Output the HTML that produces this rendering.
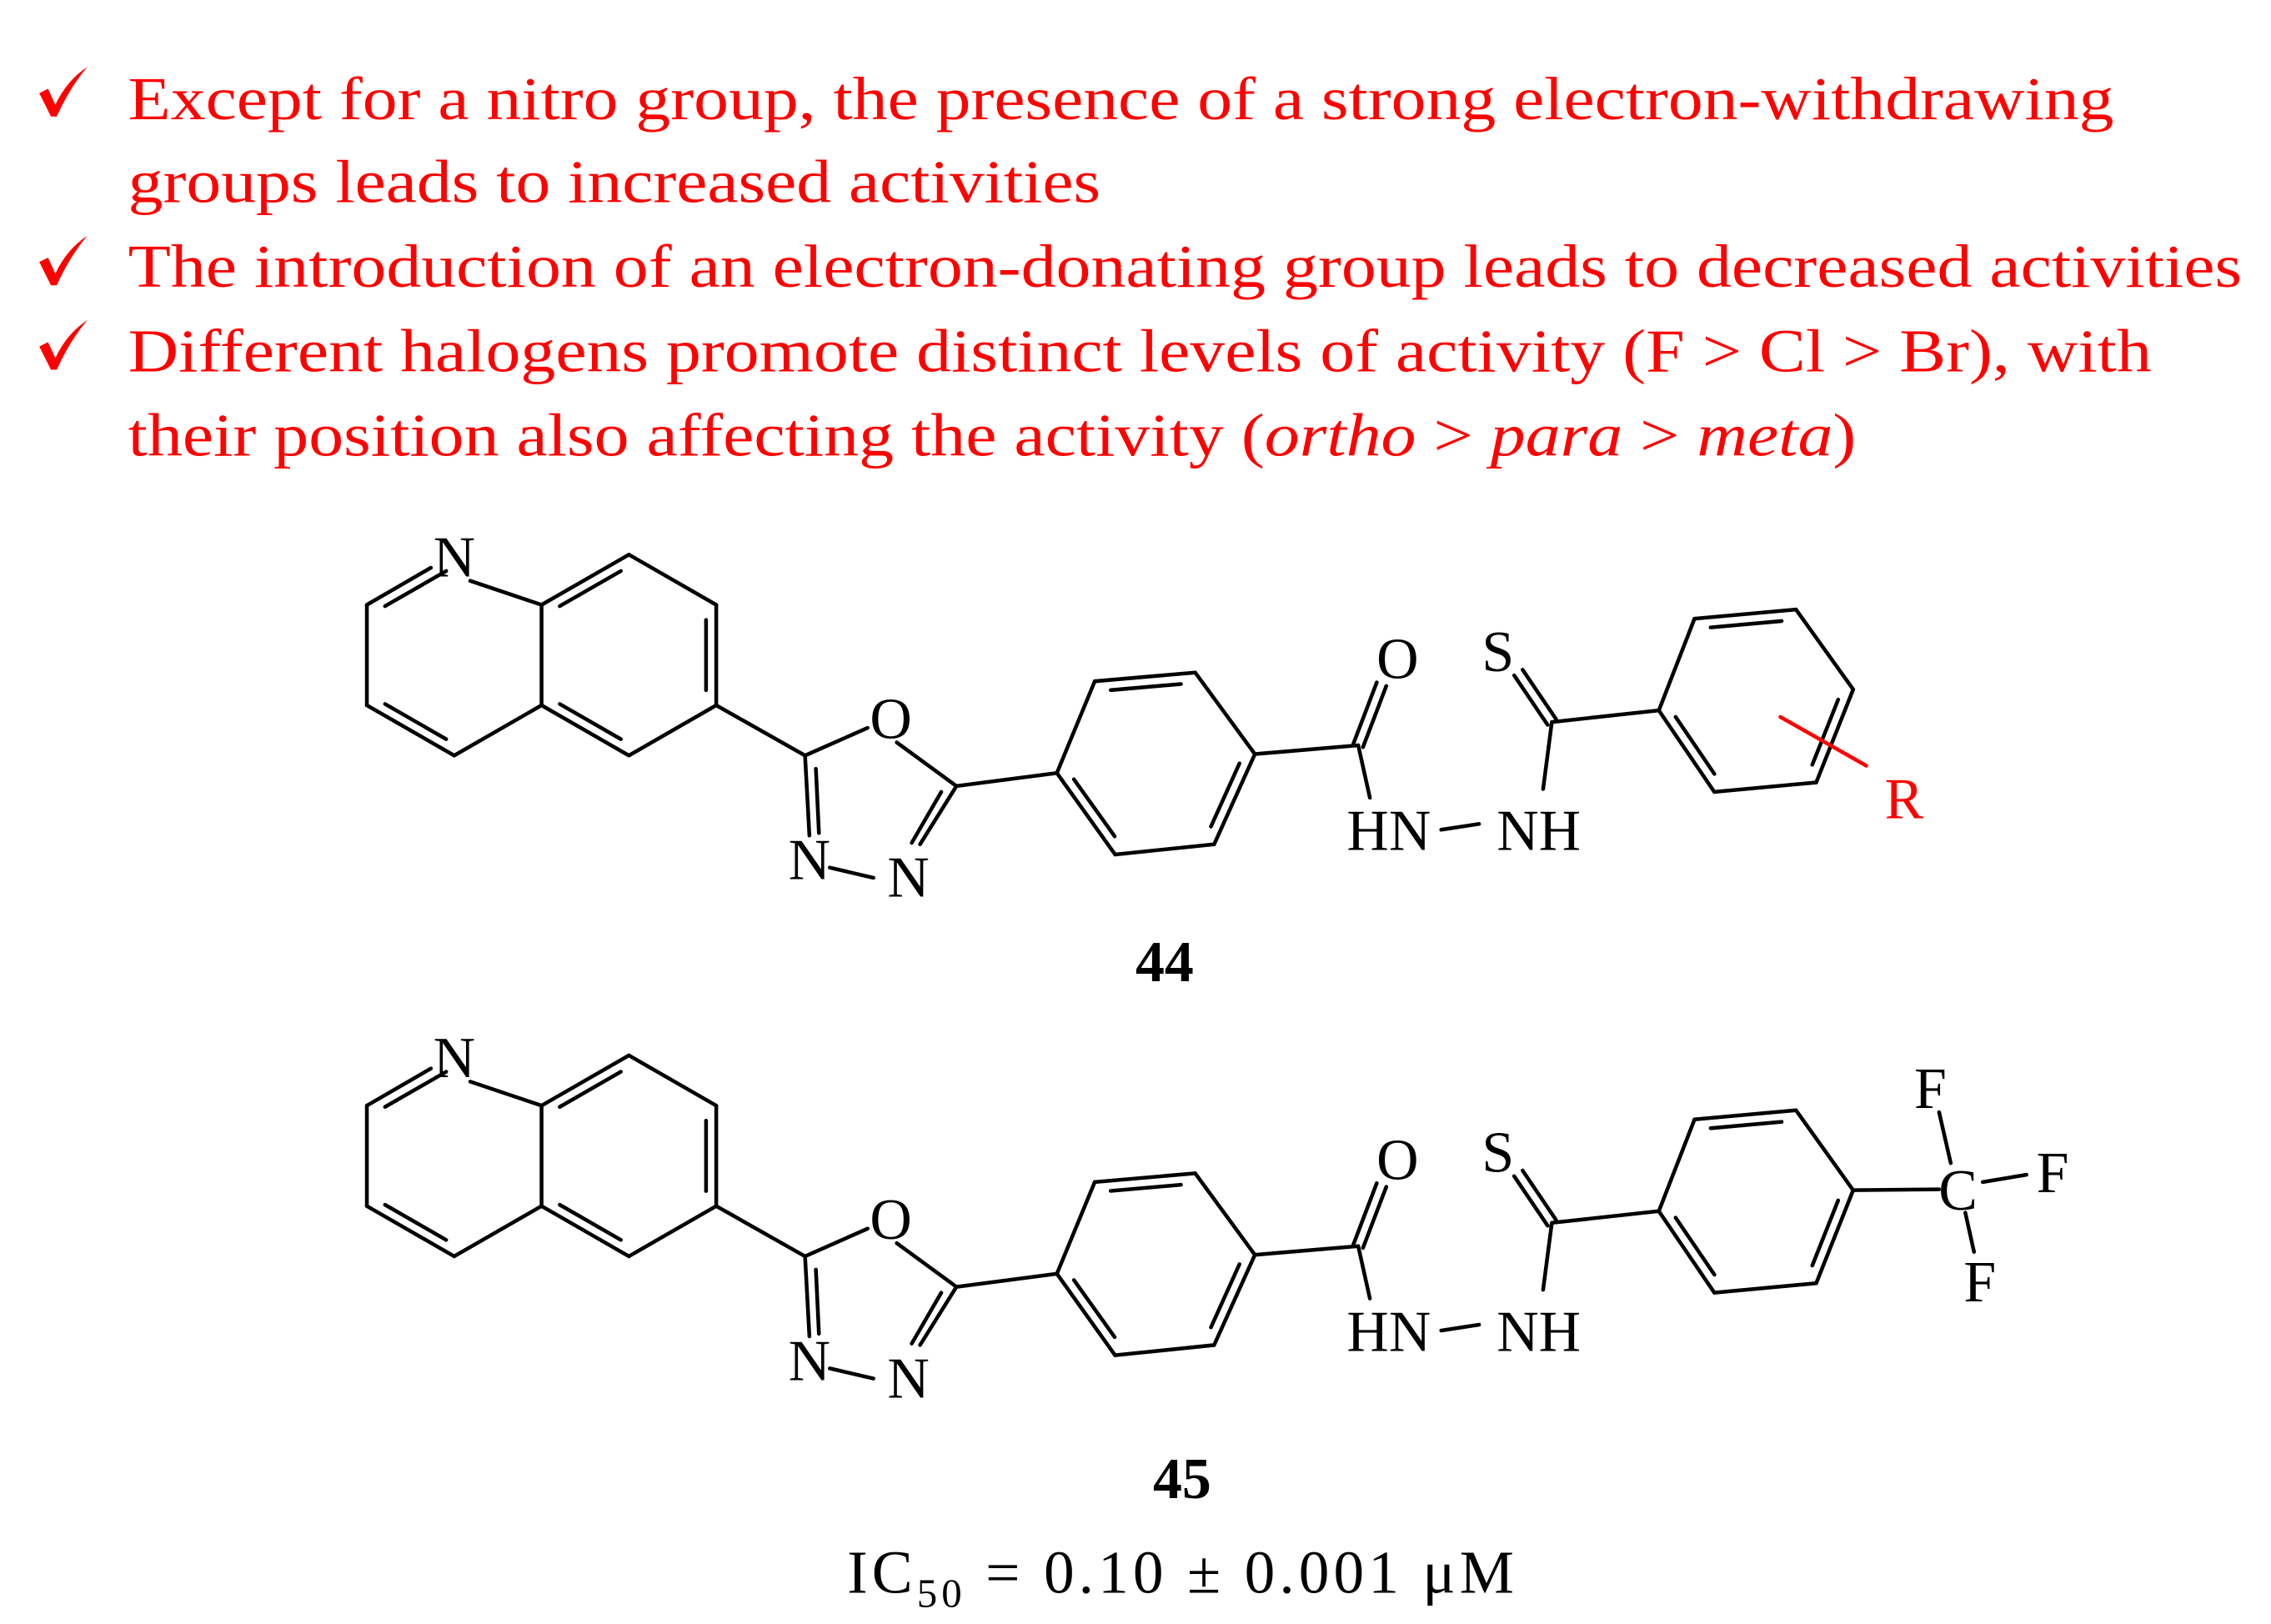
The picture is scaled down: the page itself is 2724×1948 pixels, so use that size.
<!DOCTYPE html>
<html><head><meta charset="utf-8"><style>
html,body{margin:0;padding:0;background:#fff;}
svg{display:block;}
text{font-family:"Liberation Serif","DejaVu Serif",serif;}
</style></head><body>
<svg id="s" width="2724" height="1948" viewBox="0 0 1560 1115.6" preserveAspectRatio="none" xmlns="http://www.w3.org/2000/svg">
<g fill="#ff0000" font-size="42">
<path d="M27 64 L33 61 L38 72 Q46 55 60 46 Q48 60 39 80 L35 80 Z"/>
<path d="M27 180 L33 177 L38 188 Q46 171 60 162 Q48 176 39 196 L35 196 Z"/>
<path d="M27 238 L33 235 L38 246 Q46 229 60 220 Q48 234 39 254 L35 254 Z"/>
<text x="88" y="82" textLength="1364" lengthAdjust="spacingAndGlyphs">Except for a nitro group, the presence of a strong electron-withdrawing</text>
<text x="88" y="139" textLength="668" lengthAdjust="spacingAndGlyphs">groups leads to increased activities</text>
<text x="88" y="197" textLength="1452" lengthAdjust="spacingAndGlyphs">The introduction of an electron-donating group leads to decreased activities</text>
<text x="88" y="255" textLength="1390" lengthAdjust="spacingAndGlyphs">Different halogens promote distinct levels of activity (F &gt; Cl &gt; Br), with</text>
<text x="88" y="313" textLength="1187" lengthAdjust="spacingAndGlyphs">their position also affecting the activity (<tspan font-style="italic">ortho</tspan> &gt; <tspan font-style="italic">para</tspan> &gt; <tspan font-style="italic">meta</tspan>)</text>
</g>
<g id="mol" stroke="#000" stroke-width="2.6" fill="none" stroke-linecap="round"></g>
<g id="lab" font-size="40" fill="#000"></g>
</svg>
<script>
var NS="http://www.w3.org/2000/svg",G=document.getElementById('mol'),L=document.getElementById('lab');
function ln(a,b,col){var e=document.createElementNS(NS,'line');e.setAttribute('x1',a[0]);e.setAttribute('y1',a[1]);e.setAttribute('x2',b[0]);e.setAttribute('y2',b[1]);if(col)e.setAttribute('stroke',col);G.appendChild(e);}
function inner(a,b,c){var mx=(a[0]+b[0])/2,my=(a[1]+b[1])/2,dx=b[0]-a[0],dy=b[1]-a[1],l=Math.hypot(dx,dy),nx=-dy/l,ny=dx/l;
 if((c[0]-mx)*nx+(c[1]-my)*ny<0){nx=-nx;ny=-ny;}var o=7,s=0.15;
 ln([a[0]+dx*s+nx*o,a[1]+dy*s+ny*o],[b[0]-dx*s+nx*o,b[1]-dy*s+ny*o]);}
function dbl(a,b){var dx=b[0]-a[0],dy=b[1]-a[1],l=Math.hypot(dx,dy),nx=-dy/l*3.5,ny=dx/l*3.5;
 ln([a[0]+nx,a[1]+ny],[b[0]+nx,b[1]+ny]);ln([a[0]-nx,a[1]-ny],[b[0]-nx,b[1]-ny]);}
function tx(x,y,s,opt){var e=document.createElementNS(NS,'text');e.setAttribute('x',x);e.setAttribute('y',y);e.setAttribute('text-anchor','middle');
 if(opt){for(var k in opt)e.setAttribute(k,opt[k]);}e.textContent=s;L.appendChild(e);return e;}
function mol(dy,cf3){
 var P=function(x,y){return[x,y+dy];};
 var N1=P(312,381),a=P(372,415.5),b=P(372,484.5),cc=P(312,519),d=P(252,484.5),e=P(252,415.5),
 f=P(432,381),g=P(492,415.5),h=P(492,484.5),i=P(432,519),LC=P(312,450),RC=P(432,450);
 ln(P(323,399),a);ln(a,b);ln(b,cc);ln(cc,d);ln(d,e);ln(e,P(296,390));
 inner(e,N1,LC);inner(d,cc,LC);
 ln(a,f);ln(f,g);ln(g,h);ln(h,i);ln(i,b);
 inner(a,f,RC);inner(g,h,RC);inner(i,b,RC);
 var C2=P(553,519),C5=P(657,540),OC=P(600,548);
 ln(h,C2);ln(C2,P(596,500));ln(P(616,510),C5);ln(C5,P(632,580));ln(C2,P(556,574));
 inner(C2,P(556,582),OC);inner(C5,P(628,590),OC);
 ln(P(570,596),P(600,603));
 var p1=P(752,468),p2=P(821,462),p3=P(862,518),p4=P(834,580),p5=P(766,587),p6=P(726,531),BC=P(794,525);
 ln(C5,p6);ln(p1,p2);ln(p2,p3);ln(p3,p4);ln(p4,p5);ln(p5,p6);ln(p6,p1);
 inner(p1,p2,BC);inner(p3,p4,BC);inner(p5,p6,BC);
 var Cc=P(933,512);ln(p3,Cc);dbl(Cc,P(949,470));ln(Cc,P(941,548));
 var Ct=P(1066,496);ln(Ct,P(1060,542));dbl(Ct,P(1043,462));
 var q1=P(1164,425),q2=P(1233.7,418.7),q3=P(1273,473.6),q4=P(1247.6,537.5),q5=P(1177.6,544),q6=P(1139.5,488),QC=P(1206,481);
 ln(Ct,q6);ln(q1,q2);ln(q2,q3);ln(q3,q4);ln(q4,q5);ln(q5,q6);ln(q6,q1);
 inner(q1,q2,QC);inner(q3,q4,QC);inner(q5,q6,QC);
 tx(312,396+dy,'N');tx(612,507+dy,'O');tx(556,604+dy,'N');tx(624,616+dy,'N');
 tx(960,466+dy,'O');tx(1029,461+dy,'S');
 tx(954,584+dy,'HN');tx(1057,584+dy,'NH');ln(P(990,570),P(1016,566));
 if(!cf3){ln(P(1223,492.5),P(1282,526),'#ff0000');tx(1308,562,'R',{fill:'#ff0000'});}
 else{
  ln(q3,[1332,817]);ln([1340,799],[1332,764]);ln([1362,812],[1392,807]);ln([1350,833],[1356,860]);
  tx(1345,831,'C');tx(1326,761,'F');tx(1410,819,'F');tx(1360,894,'F');}
}
mol(0,false);mol(344,true);
tx(800,674,'44',{'font-weight':'bold'});
tx(812,1029,'45',{'font-weight':'bold'});
var t=tx(582,1094,'',{'text-anchor':'start','font-size':'42'});
t.innerHTML='IC<tspan font-size="28" dy="10">50</tspan><tspan dy="-10"> = 0.10 ± 0.001 μM</tspan>';
t.setAttribute('textLength','458');t.setAttribute('lengthAdjust','spacing');
</script>
</body></html>
